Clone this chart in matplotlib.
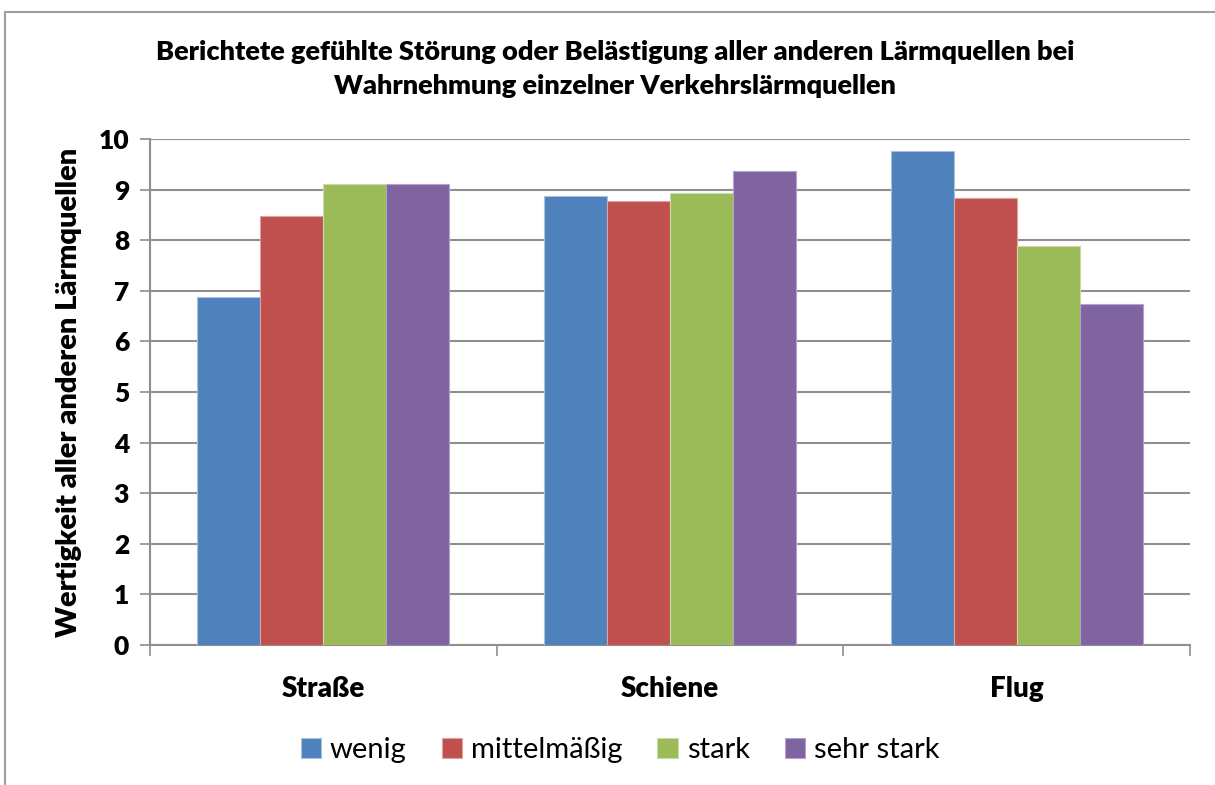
import matplotlib.pyplot as plt
import numpy as np

plt.rcParams['font.family'] = ['Lato', 'DejaVu Sans']

categories = ["Straße", "Schiene", "Flug"]
series_names = ["wenig", "mittelmäßig", "stark", "sehr stark"]
wenig = [6.88, 8.88, 9.77]
mittelmaessig = [8.48, 8.78, 8.83]
stark = [9.11, 8.93, 7.89]
sehr_stark = [9.11, 9.36, 6.74]
y_ticks = [0, 1, 2, 3, 4, 5, 6, 7, 8, 9, 10]

colors = ["#4F81BD", "#C0504D", "#9BBB59", "#8064A2"]
edges = ["#a9c0dd", "#dca3a2", "#c9dba9", "#b4a3c8"]


def main():
    fig = plt.figure(figsize=(12.15, 7.85), dpi=100)
    W, H = 1215, 785
    # plot area in pixels: x 150..1190, y 139..645
    ax = fig.add_axes([150 / W, 1 - 645 / H, 1040 / W, 506 / H])

    values = [wenig, mittelmaessig, stark, sehr_stark]
    x = np.arange(len(categories))
    bw = 1 / 5.5
    for i, (vals, name) in enumerate(zip(values, series_names)):
        ax.bar(x + (i - 1.5) * bw, vals, width=bw, color=colors[i],
               edgecolor=edges[i], linewidth=0.8, label=name, zorder=3)

    ax.set_xlim(-0.5, 2.5)
    ax.set_ylim(0, 10)
    ax.set_yticks(y_ticks)
    ax.set_yticklabels([str(t) for t in y_ticks], fontsize=19,
                       fontweight='heavy')
    ax.yaxis.grid(True, color="#8f8f8f", linewidth=1.5, zorder=0)
    ax.set_axisbelow(True)

    ax.set_xticks([-0.5, 0.5, 1.5, 2.5])
    ax.set_xticklabels([])
    ax.set_xticks(x, minor=True)
    ax.set_xticklabels(categories, minor=True, fontsize=20,
                       fontweight='heavy')
    ax.tick_params(axis='x', which='minor', length=0, pad=22)
    ax.tick_params(axis='x', which='major', length=8, width=1.2,
                   color="#8f8f8f")
    ax.tick_params(axis='y', length=7, width=1.2, color="#8f8f8f", pad=8)

    for side in ["top", "right"]:
        ax.spines[side].set_visible(False)
    for side in ["left", "bottom"]:
        ax.spines[side].set_color("#8f8f8f")
        ax.spines[side].set_linewidth(1.5)

    ax.set_ylabel("Wertigkeit aller anderen Lärmquellen", fontsize=21,
                  fontweight='heavy', labelpad=12)

    fig.text(615 / W, 1 - 52 / H,
             "Berichtete gefühlte Störung oder Belästigung aller anderen Lärmquellen bei",
             ha='center', va='center', fontsize=19.5, fontweight='heavy')
    fig.text(615 / W, 1 - 86 / H,
             "Wahrnehmung einzelner Verkehrslärmquellen",
             ha='center', va='center', fontsize=19.5, fontweight='heavy')

    fig.legend(loc='center', bbox_to_anchor=(620 / W, 1 - 750 / H),
               ncol=4, frameon=False, fontsize=21, handlelength=0.7,
               handleheight=0.7, handletextpad=0.3, columnspacing=1.2)

    # outer chart frame (top and left edges)
    fig.add_artist(plt.Line2D([5 / W, 1], [1 - 12 / H, 1 - 12 / H],
                              color="#a0a0a0", linewidth=1.5))
    fig.add_artist(plt.Line2D([5 / W, 5 / W], [0, 1 - 12 / H],
                              color="#a0a0a0", linewidth=1.5))

    fig.savefig("out.png", dpi=100)


if __name__ == "__main__":
    main()
